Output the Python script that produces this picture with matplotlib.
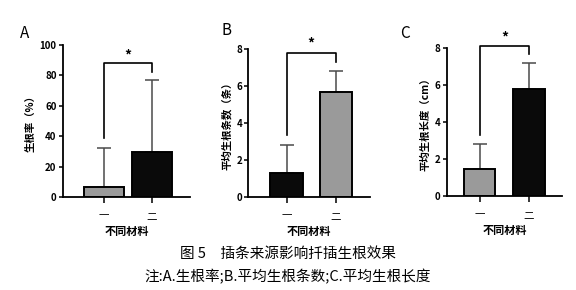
import matplotlib
matplotlib.use("Agg")
import matplotlib.pyplot as plt

plt.rcParams['font.family'] = ['Noto Sans CJK SC', 'DejaVu Sans']

categories = ["一", "二"]
rate_mean = [6.5, 29.5]
rate_err = [25.5, 47.5]
count_mean = [1.3, 5.65]
count_err = [1.5, 1.15]
length_mean = [1.45, 5.8]
length_err = [1.35, 1.4]

GRAY = "#9a9a9a"
BLACK = "#0a0a0a"

fig = plt.figure(figsize=(5.76, 2.9), dpi=100)

panels = [
    dict(rect=[0.109, 0.321, 0.221, 0.524], means=rate_mean, errs=rate_err,
         colors=[GRAY, BLACK], ylim=100, yticks=[0, 20, 40, 60, 80, 100],
         xlim=(-0.85, 1.79), width=0.82, ylabel="生根率（%）",
         bracket=(88, 39, 82), star=93, letter="A", letter_xy=(0.035, 0.885)),
    dict(rect=[0.431, 0.321, 0.211, 0.510], means=count_mean, errs=count_err,
         colors=[BLACK, GRAY], ylim=8, yticks=[0, 2, 4, 6, 8],
         xlim=(-0.78, 1.69), width=0.66, ylabel="平均生根条数（条）",
         bracket=(7.78, 3.35, 7.3), star=8.3, letter="B", letter_xy=(0.385, 0.895)),
    dict(rect=[0.776, 0.324, 0.200, 0.510], means=length_mean, errs=length_err,
         colors=[GRAY, BLACK], ylim=8, yticks=[0, 2, 4, 6, 8],
         xlim=(-0.66, 1.67), width=0.64, ylabel="平均生根长度（cm）",
         bracket=(8.1, 3.3, 7.7), star=8.55, letter="C", letter_xy=(0.695, 0.885)),
]

for p in panels:
    ax = fig.add_axes(p["rect"])
    x = list(range(len(categories)))
    ax.bar(x, p["means"], width=p["width"], color=p["colors"],
           edgecolor="black", linewidth=1.4, zorder=2)
    for xi, m, e in zip(x, p["means"], p["errs"]):
        ax.errorbar(xi, m, yerr=[[0], [e]], fmt="none", ecolor="#4a4a4a",
                    elinewidth=1.1, capsize=5, capthick=1.1, zorder=1)
    ax.set_ylim(0, p["ylim"])
    ax.set_xlim(*p["xlim"])
    ax.set_yticks(p["yticks"])
    ax.set_xticks(x)
    ax.set_xticklabels(categories, fontsize=7.5)
    ax.tick_params(axis="y", labelsize=7, length=3, width=1.1, pad=1.5)
    ax.tick_params(axis="x", length=4, width=1.1, pad=6)
    for lbl in ax.get_yticklabels():
        lbl.set_fontweight("bold")
    for s in ["top", "right"]:
        ax.spines[s].set_visible(False)
    for s in ["left", "bottom"]:
        ax.spines[s].set_linewidth(1.3)
    ax.set_ylabel(p["ylabel"], fontsize=7.5, labelpad=3, fontweight="bold")
    ax.set_xlabel("不同材料", fontsize=8, labelpad=3, fontweight="bold")
    top, lft, rgt = p["bracket"]
    ax.plot([0, 0, 1, 1], [lft, top, top, rgt], color="black", lw=1.2,
            clip_on=False, zorder=3)
    ax.text(0.5, p["star"], "*", ha="center", va="center", fontsize=10,
            fontweight="bold", clip_on=False)
    fig.text(p["letter_xy"][0], p["letter_xy"][1], p["letter"], fontsize=11,
             ha="left", va="center")

fig.text(0.5, 0.125, "图 5　插条来源影响扦插生根效果", ha="center", va="center",
         fontsize=10.5)
fig.text(0.5, 0.045, "注:A.生根率;B.平均生根条数;C.平均生根长度", ha="center",
         va="center", fontsize=10.5)

fig.savefig("out.png", dpi=100)
